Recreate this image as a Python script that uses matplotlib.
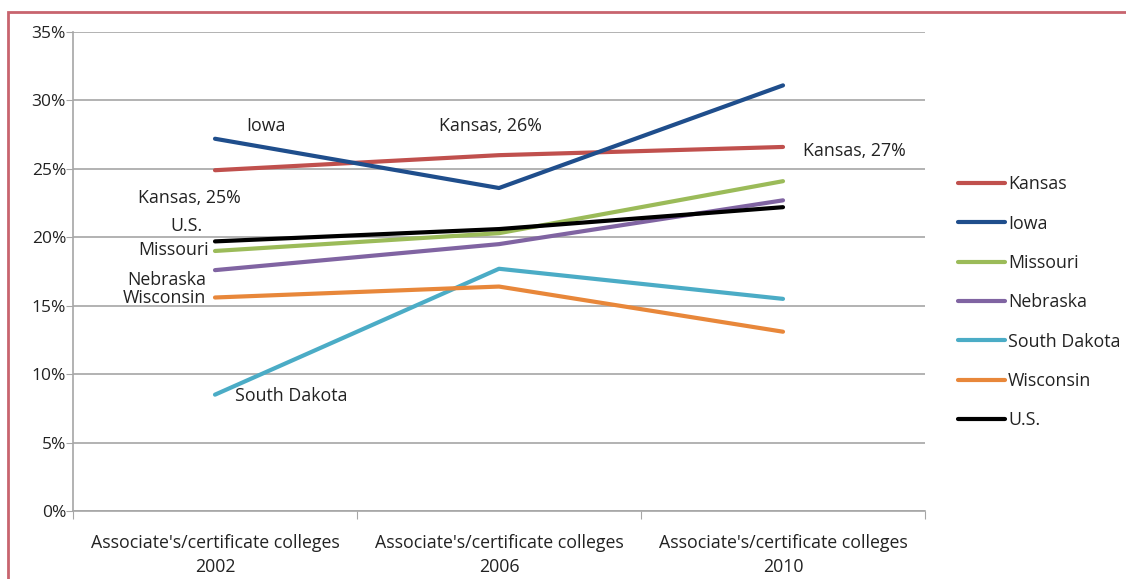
import matplotlib.pyplot as plt
from matplotlib.patches import Rectangle
from matplotlib.ticker import FuncFormatter

plt.rcParams['font.family'] = ['Open Sans', 'DejaVu Sans']

categories = ["Associate's/certificate colleges\n2002",
              "Associate's/certificate colleges\n2006",
              "Associate's/certificate colleges\n2010"]
kansas = [24.9, 26.0, 26.6]
iowa = [27.2, 23.6, 31.1]
missouri = [19.0, 20.3, 24.1]
nebraska = [17.6, 19.5, 22.7]
south_dakota = [8.5, 17.7, 15.5]
wisconsin = [15.6, 16.4, 13.1]
us = [19.7, 20.6, 22.2]

series = [
    ("Kansas", kansas, "#c0504d"),
    ("Iowa", iowa, "#1f4e8c"),
    ("Missouri", missouri, "#9bbb59"),
    ("Nebraska", nebraska, "#8064a2"),
    ("South Dakota", south_dakota, "#4bacc6"),
    ("Wisconsin", wisconsin, "#e8873a"),
    ("U.S.", us, "#000000"),
]

fig = plt.figure(figsize=(11.26, 5.79), dpi=100)
ax = fig.add_axes([73 / 1126, 1 - 511 / 579, (925 - 73) / 1126, (511 - 32) / 579])

x = list(range(len(categories)))
for name, vals, col in series:
    ax.plot(x, vals, color=col, lw=3, label=name, solid_capstyle='round')

tc = '#222222'
fs = 12.8

ax.set_xlim(-0.5, 2.5)
ax.set_ylim(0, 35)
ax.set_yticks(range(0, 36, 5))
ax.yaxis.set_major_formatter(FuncFormatter(lambda v, p: f"{v:.0f}%"))
ax.grid(axis='y', color='#a6a6a6', lw=1.2)
ax.set_axisbelow(True)
ax.set_xticks([-0.5, 0.5, 1.5, 2.5])
ax.set_xticklabels([])
ax.set_xticks(x, minor=True)
ax.set_xticklabels(categories, minor=True, fontsize=12.8, color=tc, linespacing=1.4)
ax.tick_params(axis='x', which='minor', length=0, pad=16.5)
ax.tick_params(axis='x', which='major', length=6, color='#a6a6a6', direction='out')
ax.tick_params(axis='y', length=5, color='#a6a6a6', labelsize=12.5, labelcolor=tc, pad=0)
for s in ['top', 'right']:
    ax.spines[s].set_visible(False)
for s in ['left', 'bottom']:
    ax.spines[s].set_color('#a6a6a6')
    ax.spines[s].set_linewidth(1.2)

ax.text(0.11, 28.1, "Iowa", fontsize=fs, color=tc, ha='left', va='center')
ax.text(-0.09, 22.9, "Kansas, 25%", fontsize=fs, color=tc, ha='center', va='center')
ax.text(-0.045, 20.8, "U.S.", fontsize=fs, color=tc, ha='right', va='center')
ax.text(-0.02, 19.1, "Missouri", fontsize=fs, color=tc, ha='right', va='center')
ax.text(-0.03, 16.9, "Nebraska", fontsize=fs, color=tc, ha='right', va='center')
ax.text(-0.03, 15.6, "Wisconsin", fontsize=fs, color=tc, ha='right', va='center')
ax.text(0.07, 8.4, "South Dakota", fontsize=fs, color=tc, ha='left', va='center')
ax.text(0.97, 28.1, "Kansas, 26%", fontsize=fs, color=tc, ha='center', va='center')
ax.text(2.07, 26.3, "Kansas, 27%", fontsize=fs, color=tc, ha='left', va='center')

fig.legend(loc='upper left', bbox_to_anchor=(953 / 1126, 1 - 170 / 579), frameon=False,
           fontsize=fs, handlelength=2.6, handletextpad=0.2, labelspacing=1.2,
           labelcolor=tc, borderaxespad=0, borderpad=0.3)

fig.patches.append(Rectangle((8 / 1126, -0.1), 1.2, 1 - 12 / 579 + 0.1, transform=fig.transFigure,
                             fill=False, edgecolor='#c8646e', lw=2))

fig.savefig('out.png', dpi=100)
